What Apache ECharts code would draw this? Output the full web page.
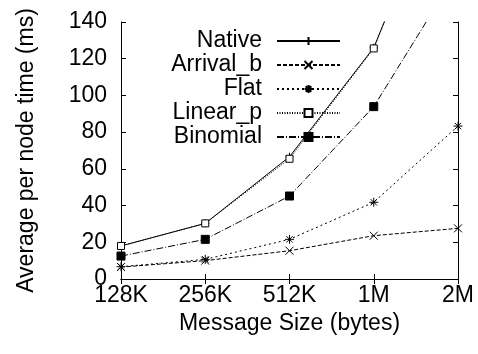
<!DOCTYPE html>
<html>
<head>
<meta charset="utf-8">
<script src="https://cdn.jsdelivr.net/npm/echarts@6/dist/echarts.min.js"></script>
<style>html,body{margin:0;padding:0;background:#fff;}#c{width:478px;height:354px;}</style>
</head>
<body>
<div id="c"></div>
<script>
var categories = ['128K', '256K', '512K', '1M', '2M'];
var native = [18, 30.3, 66.6, 126, 238];
var arrivalB = [6.5, 10, 15.4, 23.6, 27.6];
var flat = [6.7, 10.7, 21.6, 41.8, 83.3];
var linearP = [18, 30.3, 65.5, 125.6, 240];
var binomial = [12.5, 21.6, 45.2, 93.9, 168];
var yTicks = [0, 20, 40, 60, 80, 100, 120, 140];

var FONT = 'Liberation Sans, Arial, sans-serif';
var FS = 23;
var PLUS = 'path://M0,5L10,5M5,0L5,10';
var CROSS = 'path://M0,0L10,10M10,0L0,10';
var STAR = 'path://M0,5L10,5M5,0L5,10M1.5,1.5L8.5,8.5M8.5,1.5L1.5,8.5';

function mk(name, data, dash, symbol, size, fill) {
  return {
    name: name, type: 'line', data: data, xAxisIndex: 0, yAxisIndex: 0,
    symbol: symbol, symbolSize: size, showAllSymbol: true,
    lineStyle: { color: '#000', width: 1, type: dash },
    itemStyle: { color: fill, borderColor: '#000', borderWidth: 1 },
    emphasis: { disabled: true }, animation: false, clip: true
  };
}

var chart = echarts.init(document.getElementById('c'), null, { renderer: 'canvas' });
var axisCommonY = {
  type: 'value', min: yTicks[0], max: yTicks[yTicks.length - 1], interval: 20,
  splitLine: { show: false },
  axisLine: { show: true, lineStyle: { color: '#000', width: 1 } },
  axisTick: { show: true, inside: true, length: 5, lineStyle: { color: '#000' } }
};
chart.setOption({
  animation: false,
  backgroundColor: '#fff',
  grid: { left: 121, right: 20, top: 22, bottom: 75 },
  legend: {
    orient: 'vertical', align: 'right', right: 137, top: 29, padding: 0,
    itemWidth: 63, itemHeight: 10, itemGap: 0,
    textStyle: { fontFamily: FONT, fontSize: FS, color: '#000', lineHeight: 24, padding: [0, 10, 0, 0] },
    data: ['Native', 'Arrival_b', 'Flat', 'Linear_p', 'Binomial']
  },
  xAxis: [{
    type: 'category', data: categories, boundaryGap: false, position: 'bottom',
    name: 'Message Size (bytes)', nameLocation: 'middle', nameGap: 29,
    nameTextStyle: { fontFamily: FONT, fontSize: FS, color: '#000' },
    axisLine: { show: true, lineStyle: { color: '#000', width: 1 } },
    axisTick: { show: true, inside: true, length: 5, alignWithLabel: true, lineStyle: { color: '#000' } },
    axisLabel: { fontFamily: FONT, fontSize: FS, color: '#000', margin: 5, interval: 0 },
    splitLine: { show: false }
  }, {
    type: 'category', data: categories, boundaryGap: false, position: 'top',
    axisLine: { show: true, lineStyle: { color: '#000', width: 1 } },
    axisTick: { show: true, inside: true, length: 5, lineStyle: { color: '#000' } },
    axisLabel: { show: false }, splitLine: { show: false }
  }],
  yAxis: [Object.assign({}, axisCommonY, {
    position: 'left',
    name: 'Average per node time (ms)', nameLocation: 'middle', nameGap: 83,
    nameTextStyle: { fontFamily: FONT, fontSize: FS, color: '#000' },
    axisLabel: { fontFamily: FONT, fontSize: FS, color: '#000', margin: 14 }
  }), Object.assign({}, axisCommonY, {
    position: 'right', axisLabel: { show: false }
  })],
  series: [
    mk('Native', native, 'solid', PLUS, 8, '#000'),
    mk('Arrival_b', arrivalB, [4, 2], CROSS, 8, '#000'),
    mk('Flat', flat, [2, 3], STAR, 9, '#000'),
    mk('Linear_p', linearP, [1, 1.5], 'rect', 7, '#fff'),
    mk('Binomial', binomial, [7, 2, 1, 2], 'rect', 8, '#000')
  ]
});
</script>
</body>
</html>
